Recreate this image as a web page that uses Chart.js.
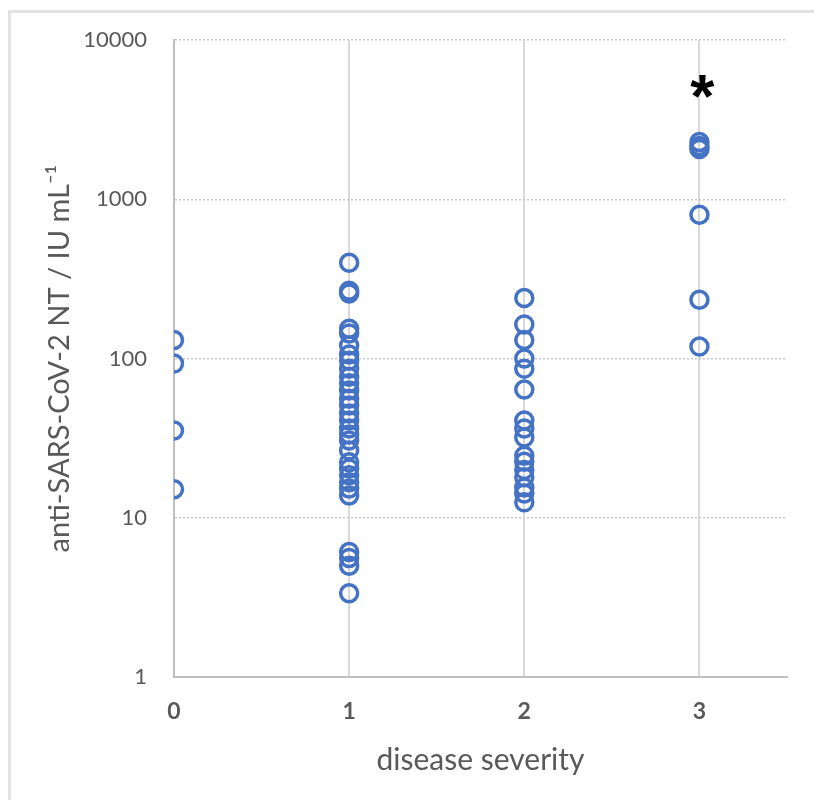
<!DOCTYPE html>
<html>
<head>
<meta charset="utf-8">
<script src="https://cdn.jsdelivr.net/npm/chart.js@4/dist/chart.umd.min.js"></script>
<style>
  body { margin: 0; background: #fff; }
  #frame { position: absolute; left: 8px; top: 10px; width: 830px; height: 820px;
           border-top: 3px solid #e3e3e3; border-left: 3px solid #e3e3e3; }
  #wrap { position: absolute; left: 0; top: 0; width: 814px; height: 800px; }
</style>
</head>
<body>
<div id="frame"></div>
<div id="wrap"><canvas id="severityChart" width="814" height="800"></canvas></div>
<script>
// antibody titres per disease severity group
const severity0 = [131, 93, 35.4, 15.1];
const severity1 = [400, 267, 256, 154, 144, 121, 106, 97, 86.5, 77, 70, 63, 56, 50.7, 45.2, 40.9,
                   36.4, 33.4, 30.6, 26.5, 22.3, 20.4, 18.5, 16.7, 15.3, 13.8, 6.1, 5.6, 5.0, 3.36];
const severity2 = [240, 164, 131, 100, 86.5, 64, 40.9, 36.4, 32, 24.5, 22.5, 20, 18, 15.5, 14.2, 12.5];
const severity3 = [2295, 2164, 2073, 800, 234, 119];
const groups = [0, 1, 2, 3];
const groupValues = [severity0, severity1, severity2, severity3];
const yTicks = [1, 10, 100, 1000, 10000];

const gray = '#595959';
const blue = '#4472C4';

const points = [];
groupValues.forEach((vals, i) => {
  vals.forEach(v => points.push({ x: groups[i], y: v }));
});

// draws the significance asterisk above group 3
const starPlugin = {
  id: 'star',
  afterDatasetsDraw(chart) {
    const ctx = chart.ctx;
    const x = chart.scales.x.getPixelForValue(3);
    const y = chart.scales.y.getPixelForValue(5150);
    ctx.save();
    ctx.fillStyle = '#000';
    ctx.font = 'bold 62px "Liberation Sans", Arial, sans-serif';
    ctx.textAlign = 'center';
    ctx.textBaseline = 'middle';
    ctx.fillText('*', x + 3, y + 14);
    ctx.restore();
  }
};

const ctx = document.getElementById('severityChart').getContext('2d');
new Chart(ctx, {
  type: 'scatter',
  data: {
    datasets: [{
      data: points,
      pointStyle: 'circle',
      pointRadius: 8.5,
      pointHoverRadius: 8.5,
      pointBorderWidth: 3.5,
      borderColor: blue,
      backgroundColor: 'rgba(0,0,0,0)'
    }]
  },
  options: {
    responsive: false,
    animation: false,
    layout: { padding: { top: 39, right: 27, left: 0, bottom: 0 } },
    plugins: {
      legend: { display: false },
      tooltip: { enabled: false }
    },
    scales: {
      x: {
        type: 'linear',
        min: 0,
        max: 3.5,
        afterBuildTicks: scale => { scale.ticks = groups.map(v => ({ value: v })); },
        afterFit: scale => { scale.height = 123; },
        grid: { color: '#d9d9d9', lineWidth: 2, drawTicks: false },
        border: { display: true, color: '#bfbfbf', width: 2 },
        ticks: {
          padding: 21,
          color: gray,
          font: { family: 'Lato', size: 23, weight: 'bold' }
        },
        title: {
          display: true,
          text: 'disease severity',
          color: gray,
          font: { family: 'Lato', size: 30 },
          padding: { top: 0, bottom: 22 }
        }
      },
      y: {
        type: 'logarithmic',
        min: 1,
        max: 10000,
        afterBuildTicks: scale => { scale.ticks = yTicks.map(v => ({ value: v })); },
        afterFit: scale => { scale.width = 174; },
        grid: { color: '#c8c8c8', lineWidth: 1.5, drawTicks: false },
        border: { display: true, color: '#bfbfbf', width: 2, dash: [2, 2] },
        ticks: {
          padding: 27,
          color: gray,
          font: { family: 'Lato', size: 22 },
          callback: v => String(v)
        },
        title: {
          display: true,
          text: 'anti-SARS-CoV-2 NT / IU mL⁻¹',
          color: gray,
          font: { family: 'Lato', size: 29 },
          padding: { top: 42, bottom: 0 }
        }
      }
    }
  },
  plugins: [starPlugin]
});
</script>
</body>
</html>
